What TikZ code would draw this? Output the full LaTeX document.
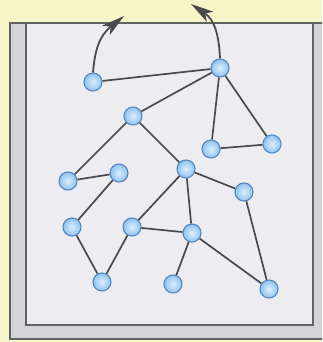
\documentclass[tikz,border=0pt]{standalone}
\usetikzlibrary{arrows.meta}
\definecolor{bgyellow}{HTML}{F7F5C8}
\definecolor{stripgray}{HTML}{D4D4D8}
\definecolor{panel}{HTML}{ECECF1}
\definecolor{framegray}{HTML}{626262}
\definecolor{edgegray}{HTML}{4A4A4C}
\definecolor{nodeborder}{HTML}{5587C2}
\definecolor{nodein}{HTML}{DDEFFD}
\definecolor{nodeout}{HTML}{8EC2EE}
\begin{document}
\begin{tikzpicture}[x=1pt,y=-1pt,
  vtx/.style={circle,draw=nodeborder,line width=1.1pt,inner color=nodein,outer color=nodeout,minimum size=18pt,inner sep=0pt},
  link/.style={draw=edgegray,line width=1.7pt},
  hoparrow/.style={draw=edgegray,line width=1.8pt,arrows={-Stealth[length=23pt,width=12pt,inset=6pt]}}]
\useasboundingbox (0,0) rectangle (322,342);
\fill[bgyellow] (0,0) rectangle (322,342);
\begin{scope}
\clip (0,0) rectangle (322,342);
\draw[framegray,line width=1.8pt,fill=stripgray] (10,23) rectangle (332,339);
\end{scope}
\draw[framegray,line width=1.8pt,fill=panel] (26,23) rectangle (313,325);
% vertices
\node[vtx] (A) at (93,82) {};
\node[vtx] (B) at (220,68) {};
\node[vtx] (C) at (133,116) {};
\node[vtx] (D) at (211,149) {};
\node[vtx] (E) at (272,144) {};
\node[vtx] (F) at (186,169) {};
\node[vtx] (G) at (68,181) {};
\node[vtx] (H) at (119,173) {};
\node[vtx] (I) at (244,192) {};
\node[vtx] (J) at (72,227) {};
\node[vtx] (K) at (132,227) {};
\node[vtx] (L) at (192,233) {};
\node[vtx] (M) at (102,282) {};
\node[vtx] (N) at (173,284) {};
\node[vtx] (O) at (269,289) {};
% edges
\path[link] (A) -- (B) (B) -- (C) (B) -- (D) (B) -- (E) (D) -- (E)
  (C) -- (G) (G) -- (H) (H) -- (J) (C) -- (F) (F) -- (K) (F) -- (L)
  (F) -- (I) (J) -- (M) (M) -- (K) (K) -- (L) (L) -- (N) (L) -- (O) (I) -- (O);
% arrows
\coordinate (t1) at (124,16);
\coordinate (t2) at (191,4);
\draw[hoparrow] (A.north) .. controls (95,50) and (99,36) .. (t1);
\draw[hoparrow] (B.north) .. controls (219,36) and (215,20) .. (t2);
\end{tikzpicture}
\end{document}
